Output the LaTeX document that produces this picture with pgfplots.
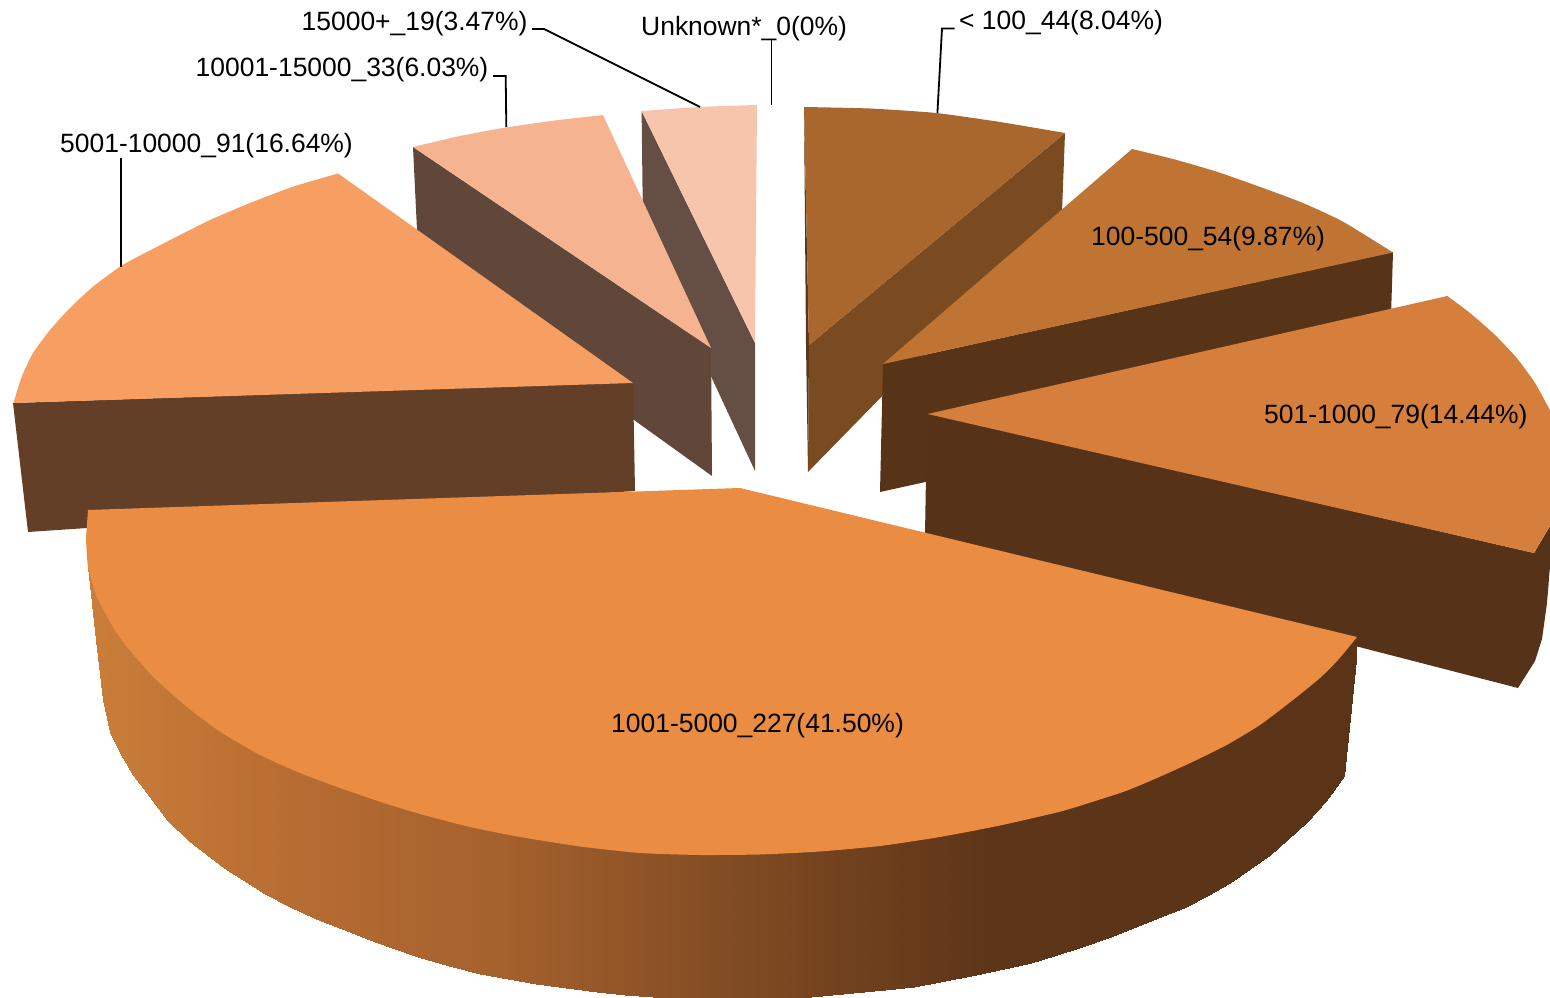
\documentclass[border=0pt]{standalone}
\usepackage{pgfplots}
\pgfplotsset{compat=1.18}
\usepackage{fontspec}
\setmainfont{Liberation Sans}
\definecolor{aT}{HTML}{A9662D}\definecolor{aS}{HTML}{7A4A20}\definecolor{aD}{HTML}{5B3518}
\definecolor{bT}{HTML}{C07433}\definecolor{bS}{HTML}{573318}
\definecolor{cT}{HTML}{D67E3B}\definecolor{cS}{HTML}{563318}
\definecolor{dT}{HTML}{EB8C43}
\definecolor{eT}{HTML}{F79E62}\definecolor{eS}{HTML}{643F27}
\definecolor{fT}{HTML}{F5B48F}\definecolor{fS}{HTML}{61473A}
\definecolor{gT}{HTML}{F7C4AC}\definecolor{gS}{HTML}{654E44}
\tikzset{lbl/.style={font=\fontsize{26.55}{30}\selectfont, inner sep=0pt, anchor=base west, text=black}}
\begin{document}
\begin{tikzpicture}
\begin{axis}[
  scale only axis, width=1550bp, height=998bp,
  xmin=0, xmax=1550, ymin=0, ymax=998, y dir=reverse,
  hide axis, clip=true,
  point meta min=89, point meta max=1358,
  colormap={side}{rgb255(0)=(202,126,57) rgb255(205)=(183,108,50) rgb255(410)=(165,97,45) rgb255(660)=(126,74,34) rgb255(900)=(93,53,24) rgb255(1269)=(91,52,24)},
]
% slice < 100
\addplot[fill=aS, draw=none] coordinates {(809,345)(1065,133)(1062,212)(808,472)};
\addplot[fill=aD, draw=none] coordinates {(804,107)(809,345)(808,472)(806,345)};
\addplot[fill=aT, draw=none, smooth, tension=0.34] coordinates {(804,107)(870,108.5)(936,113)(1000,122)(1065,133)} -- (axis cs:809,345) -- cycle;
% slice 100-500
\addplot[fill=bS, draw=none] coordinates {(883,364)(1393,252)(1389,380)(880,492)};
\addplot[fill=bT, draw=none, smooth, tension=0.34] coordinates {(1132,149)(1173,159)(1216.7,171.7)(1263,188)(1303,203)(1343,221.7)(1393,252.5)} -- (axis cs:883,364) -- cycle;
% slice 15000+
\addplot[fill=gS, draw=none] coordinates {(641.6,111)(755,343)(755,471)(643,230)};
\addplot[fill=gT, draw=none, smooth, tension=0.34] coordinates {(641.6,111)(699,107)(757,105)} -- (axis cs:755,343) -- cycle;
% slice 10001-15000
\addplot[fill=fS, draw=none] coordinates {(413,147)(711,348)(712,476)(634,420)(417,230)};
\addplot[fill=fT, draw=none, smooth, tension=0.34] coordinates {(413,147)(460,136)(506,127.5)(555,120.5)(603,115)} -- (axis cs:711,348) -- cycle;
% slice 5001-10000
\addplot[fill=eS, draw=none] coordinates {(13,403)(633,382)(635,491)(28,532)};
\addplot[fill=eT, draw=none, smooth, tension=0.34] coordinates {(338,173.5)(293,186.7)(250,203)(210,220)(176.7,236.7)(143,254)(121,266)(93,286.7)(70,308)(50,330)(33,353)(21.7,376.7)(13.5,403)} -- (axis cs:633,383) -- cycle;
% slice 501-1000
\addplot[fill=cS, draw=none] coordinates {(927,413)(1534,553)(1550,526)(1550,566)(1547,603)(1542,639)(1535,661)(1518,688)(925,535)};
\addplot[fill=cT, draw=none, smooth, tension=0.34] coordinates {(1447.3,296)(1470,313)(1495,335)(1516.7,358)(1535,383)(1552,414)} -- (axis cs:1552,522) -- (axis cs:1534,553) -- (axis cs:927.5,414) -- cycle;
% slice 1001-5000, rim
\addplot[surf, shader=interp, mesh/ordering=y varies, mesh/rows=2, point meta=x] table {
88 550
88 567
96 575
96 640
103 590
103 700
110 610
110 732
120 630
120 753
133 650
133 775
147 665
147 793
167 680
167 820
189 695
189 841
224 725
224 868
265 745
265 894
290 755
290 907
316 770
316 919
342 780
342 929
367 790
367 939
392 798
392 948
418 806
418 957
449 814
449 966
480 820
480 974
508 826
508 979
536 830
536 984
566 836
566 988
597 840
597 992
625 845
625 995
653 848
653 997
686 850
686 998
719 850
719 998
750 850
750 998
780 849
780 998
811 847
811 997
853 845
853 993
885 842
885 990
914 838
914 987
945 831
945 981
976 826
976 975
1004 818
1004 969
1031 810
1031 963
1057 803
1057 955
1082 796
1082 947
1108 785
1108 938
1133 775
1133 928
1158 765
1158 918
1184 755
1184 908
1207 745
1207 896
1230 730
1230 883
1250 715
1250 869
1270 700
1270 855
1287 690
1287 840
1306.7 680
1306.7 821.7
1325 665
1325 801.7
1334 650
1334 790
1344 640
1344 776
1356.5 637
1356.5 650
};
\addplot[fill=dT, draw=none, smooth, tension=0.34] coordinates {(1357,637)(1338,660)(1320,678)(1293,700)(1260,725)(1226.7,745)(1193,761.7)(1160,776.7)(1126.7,790.7)(1093,801.7)(1060,811.7)(1000,825.5)(940,837)(880,846)(820,851.5)(760,854.5)(700,855)(640,853)(580,846.5)(520,837)(470,827)(420,814)(380,801.7)(340,788)(300,773)(260,755)(220,731.7)(186.7,706.7)(153,676.7)(126.7,646.7)(113,627)(97,597)(88,567)(86,538)} -- (axis cs:88,510) -- (axis cs:740,488) -- cycle;
% leader lines
\addplot[black, line width=1.8bp] coordinates {(771.5,40)(771.5,105)};
\addplot[black, line width=1.8bp] coordinates {(532,29)(544,29)(700,107)};
\addplot[black, line width=1.8bp] coordinates {(493,76)(505.7,76)(506.3,127)};
\addplot[black, line width=1.8bp] coordinates {(121,158)(121,267)};
\addplot[black, line width=1.8bp] coordinates {(954.6,28.5)(942,28.5)(937.4,113)};
% labels
\node[lbl] at (axis cs:641,36) {Unknown*\_0(0\%)};
\node[lbl] at (axis cs:301.5,31) {15000+\_19(3.47\%)};
\node[lbl] at (axis cs:195.5,76.5) {10001-15000\_33(6.03\%)};
\node[lbl] at (axis cs:60,153) {5001-10000\_91(16.64\%)};
\node[lbl] at (axis cs:959,30) {< 100\_44(8.04\%)};
\node[lbl] at (axis cs:1091,246) {100-500\_54(9.87\%)};
\node[lbl] at (axis cs:1264,424) {501-1000\_79(14.44\%)};
\node[lbl] at (axis cs:611,733) {1001-5000\_227(41.50\%)};
\end{axis}
\path (current axis.south west) rectangle (current axis.north east);
\end{tikzpicture}
\end{document}
